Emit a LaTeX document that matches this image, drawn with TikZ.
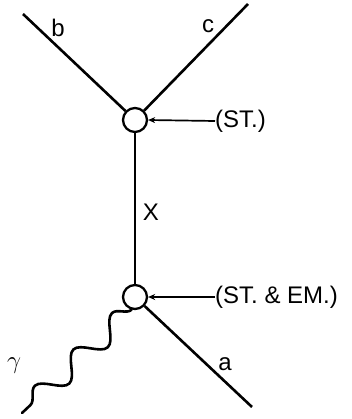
\documentclass[tikz,border=0pt]{standalone}
\usepackage{fontspec}
\setmainfont{Liberation Sans}
\usetikzlibrary{decorations.pathmorphing,arrows.meta}
\begin{document}
\begin{tikzpicture}[x=1pt,y=-1pt,
  line/.style={line width=2.6pt},
  vtx/.style={circle,draw,line width=2.3pt,minimum size=24pt,inner sep=0pt},
  lbl/.style={font=\fontsize{24}{27}\selectfont,inner sep=0pt},
  pointer/.style={line width=1.7pt,-{Stealth[length=7pt,width=6pt]}}]
\useasboundingbox (0,0) rectangle (352,419);
\node[vtx] (top) at (135,120) {};
\node[vtx] (bot) at (135,297) {};
\coordinate (bend) at (23,14);
\coordinate (cend) at (248,4);
\coordinate (aend) at (252,407);
\coordinate (gend) at (22,413);
\draw[line] (bend) -- (top);
\draw[line] (cend) -- (top);
\draw[line] (top) -- (bot);
\draw[line] (bot) -- (aend);
\draw[line,line cap=round,decorate,decoration={snake,amplitude=-11pt,segment length=53pt}] (bot.255) -- (gend);
\node[lbl] (b) at (58,28) {b};
\node[lbl] (c) at (208,26) {c};
\node[lbl] (x) at (151,212) {X};
\node[lbl] (a) at (225,364) {a};
\node[lbl] (g) at (14,366) {\(\gamma\)};
\node[lbl,anchor=west] (st) at (215,121) {(ST.)};
\node[lbl,anchor=west] (stem) at (215,297) {(ST. \& EM.)};
\draw[pointer] (st.west) -- (top.east);
\draw[pointer] (stem.west) -- (bot.east);
\end{tikzpicture}
\end{document}
